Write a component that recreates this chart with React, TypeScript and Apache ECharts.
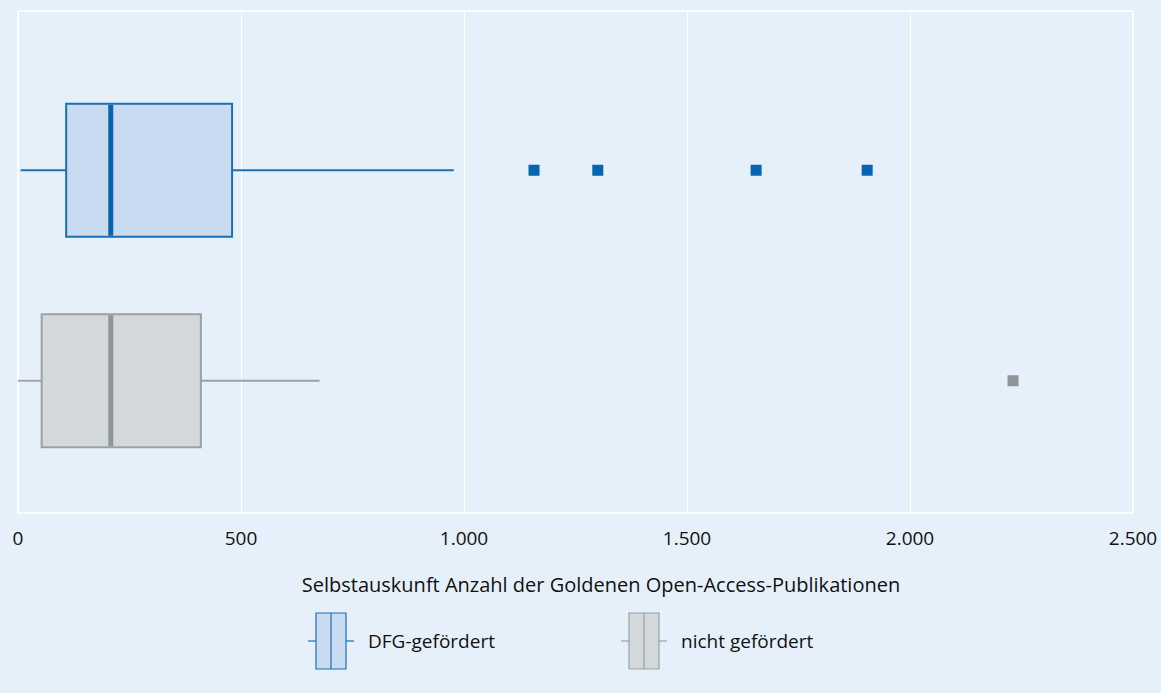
import React, { useEffect, useRef } from "react";
import * as echarts from "echarts";

// Groups (top to bottom)
const categories = ["DFG-gefördert", "nicht gefördert"];
// Five-number summaries: [min whisker, Q1, median, Q3, max whisker]
const dfgSummary = [6, 108, 208, 480, 977];
const nichtSummary = [0, 53, 208, 410, 676];
// Outliers per group
const dfgOutliers = [1157, 1300, 1655, 1904];
const nichtOutliers = [2231];
// Axis
const xTicks = [0, 500, 1000, 1500, 2000, 2500];
const xTitle = "Selbstauskunft Anzahl der Goldenen Open-Access-Publikationen";

const FONT = "'Liberation Sans Narrow', 'Open Sans', 'Noto Sans', sans-serif";
const BG = "#e5f0fa";

const styles = [
  { stroke: "#1b6fb6", fill: "#c9dbf0", median: "#0b63ad", point: "#0565b0" },
  { stroke: "#9aa2a6", fill: "#d3d8db", median: "#8e9698", point: "#8f9597" },
];

function boxSeries(idx: number, summary: number[]) {
  const st = styles[idx];
  return {
    type: "custom",
    name: categories[idx],
    xAxisIndex: 1,
    yAxisIndex: 1,
    encode: { x: [1, 2, 3, 4, 5], y: 0 },
    data: [[idx, ...summary]],
    renderItem: (_params: any, api: any) => {
      const cat = api.value(0);
      const band = api.size([0, 1])[1];
      const h = band * 0.633;
      const pt = (v: number) => api.coord([v, cat]);
      const lo = pt(api.value(1));
      const q1 = pt(api.value(2));
      const md = pt(api.value(3));
      const q3 = pt(api.value(4));
      const hi = pt(api.value(5));
      const cy = lo[1];
      return {
        type: "group",
        children: [
          {
            type: "line",
            shape: { x1: lo[0], y1: cy, x2: q1[0], y2: cy },
            style: { stroke: st.stroke, lineWidth: 1.8 },
          },
          {
            type: "line",
            shape: { x1: q3[0], y1: cy, x2: hi[0], y2: cy },
            style: { stroke: st.stroke, lineWidth: 1.8 },
          },
          {
            type: "rect",
            shape: { x: q1[0], y: cy - h / 2, width: q3[0] - q1[0], height: h },
            style: { fill: st.fill, stroke: st.stroke, lineWidth: 2 },
          },
          {
            type: "line",
            shape: { x1: md[0], y1: cy - h / 2 + 1, x2: md[0], y2: cy + h / 2 - 1 },
            style: { stroke: st.median, lineWidth: 5 },
          },
        ],
      };
    },
  };
}

function outlierSeries(idx: number, values: number[]) {
  return {
    type: "scatter",
    name: categories[idx] + " Ausreißer",
    xAxisIndex: 1,
    yAxisIndex: 1,
    symbol: "rect",
    symbolSize: 11,
    itemStyle: { color: styles[idx].point, opacity: 1 },
    data: values.map((v) => [v, idx]),
  };
}

function legendItem(idx: number, x: number, y: number) {
  const st = styles[idx];
  const boxW = 30;
  const boxH = 56;
  return {
    type: "group",
    x,
    y,
    children: [
      { type: "line", shape: { x1: 0, y1: 0, x2: 8, y2: 0 }, style: { stroke: st.stroke, lineWidth: 1.2 } },
      { type: "line", shape: { x1: 8 + boxW, y1: 0, x2: 16 + boxW, y2: 0 }, style: { stroke: st.stroke, lineWidth: 1.2 } },
      {
        type: "rect",
        shape: { x: 8, y: -boxH / 2, width: boxW, height: boxH },
        style: { fill: st.fill, stroke: st.stroke, lineWidth: 1.2 },
      },
      { type: "line", shape: { x1: 8 + boxW / 2, y1: -boxH / 2, x2: 8 + boxW / 2, y2: boxH / 2 }, style: { stroke: st.stroke, lineWidth: 1.2 } },
      {
        type: "text",
        x: 16 + boxW + 14,
        y: 0,
        style: { text: categories[idx], font: `19px ${FONT}`, fill: "#111", verticalAlign: "middle", align: "left" },
      },
    ],
  };
}

export default function App() {
  const ref = useRef<HTMLDivElement>(null);

  useEffect(() => {
    document.body.style.margin = "0";
    const chart = echarts.init(ref.current!, null, { renderer: "svg" });
    const xCommon = {
      type: "value",
      min: xTicks[0],
      max: xTicks[xTicks.length - 1],
      interval: xTicks[1] - xTicks[0],
    };
    chart.setOption({
      animation: false,
      backgroundColor: BG,
      textStyle: { fontFamily: FONT },
      grid: [
        // frame, grid lines and tick labels
        { left: 18, right: 28, top: 11, bottom: 180, show: true, borderColor: "#ffffff", borderWidth: 1.5, backgroundColor: "transparent" },
        // boxes
        { left: 18, right: 28, top: 65, bottom: 207 },
      ],
      xAxis: [
        {
          ...xCommon,
          gridIndex: 0,
          axisLine: { show: false },
          axisTick: { show: false },
          splitLine: { show: true, lineStyle: { color: "#ffffff", width: 1 } },
          axisLabel: {
            color: "#111",
            fontSize: 19,
            margin: 15,
            fontFamily: FONT,
            formatter: (v: number) => v.toLocaleString("de-DE"),
          },
        },
        {
          ...xCommon,
          gridIndex: 1,
          show: false,
          splitLine: { show: false },
        },
      ],
      yAxis: [
        { type: "value", gridIndex: 0, show: false, splitLine: { show: false } },
        {
          type: "category",
          gridIndex: 1,
          data: categories,
          inverse: true,
          show: false,
        },
      ],
      series: [
        boxSeries(0, dfgSummary),
        boxSeries(1, nichtSummary),
        outlierSeries(0, dfgOutliers),
        outlierSeries(1, nichtOutliers),
      ],
      graphic: [
        {
          type: "text",
          x: 601,
          y: 584,
          style: { text: xTitle, font: `20px ${FONT}`, fill: "#111", align: "center", verticalAlign: "middle" },
        },
        legendItem(0, 308, 641),
        legendItem(1, 621, 641),
      ],
    });
    return () => chart.dispose();
  }, []);

  return (
    <div
      ref={ref}
      style={{ position: "absolute", left: 0, top: 0, width: 1161, height: 693, background: BG }}
    />
  );
}
